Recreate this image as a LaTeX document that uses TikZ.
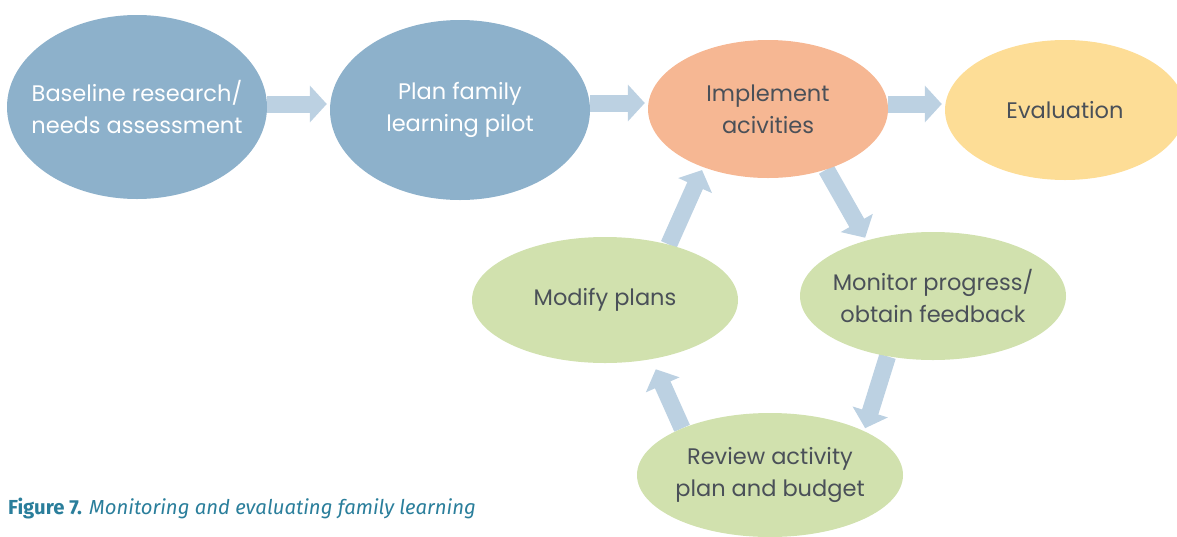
\documentclass[tikz,border=0pt]{standalone}
\usepackage{fontspec}
\setmainfont{Poppins}
\newfontfamily\capfont{Fira Sans}
\usetikzlibrary{shapes.geometric,arrows.meta,calc}
\definecolor{bluefill}{HTML}{8DB1CB}
\definecolor{salmon}{HTML}{F6B793}
\definecolor{yellowfill}{HTML}{FDDD96}
\definecolor{greenfill}{HTML}{D1E1AE}
\definecolor{arrowblue}{HTML}{BCD1E2}
\definecolor{txtgray}{HTML}{4A5058}
\definecolor{capteal}{HTML}{2A7E9B}
\pgfdeclarelayer{bg}
\pgfsetlayers{bg,main}
\tikzset{
  blob/.style={ellipse, draw=none, minimum width=#1, inner sep=0pt},
  lbl/.style={align=center, font=\fontsize{22.5}{32}\selectfont, inner sep=0pt},
  flow/.style={line width=17pt, draw=arrowblue, -{Triangle[width=36pt,length=17pt]}, shorten >=3pt}
}
\begin{document}
\begin{tikzpicture}[x=1pt,y=-1pt]
\useasboundingbox (0,0) rectangle (1177,536);
\node[blob=260pt, minimum height=184pt, fill=bluefill, label={[lbl,text=white]center:{Baseline research/\\needs assessment}}] (base) at (137,107) {};
\node[blob=260pt, minimum height=180pt, fill=bluefill, label={[lbl,text=white]center:{Plan family\\learning pilot}}] (plan) at (460,110) {};
\node[blob=240pt, minimum height=138pt, fill=salmon, label={[lbl,text=txtgray]center:{Implement\\acivities}}] (impl) at (768,109) {};
\node[blob=240pt, minimum height=140pt, fill=yellowfill, label={[lbl,text=txtgray]center:{Evaluation}}] (eval) at (1065,110) {};
\node[blob=266pt, minimum height=126pt, fill=greenfill, label={[lbl,text=txtgray]center:{Modify plans}}] (mod) at (605,300) {};
\node[blob=266pt, minimum height=128pt, fill=greenfill, label={[lbl,text=txtgray]center:{Monitor progress/\\obtain feedback}}] (mon) at (933,296) {};
\node[blob=266pt, minimum height=124pt, fill=greenfill, label={[lbl,text=txtgray]center:{Review activity\\plan and budget}}] (rev) at (770,475) {};
\begin{pgfonlayer}{bg}
\draw[flow] ([yshift=3pt]base.east) -- ([yshift=3pt]base.east -| plan.west);
\draw[flow] ([yshift=7pt]plan.east) -- ([yshift=7pt]plan.east -| impl.west);
\draw[flow] ([yshift=5pt]impl.east) -- ([yshift=5pt]impl.east -| eval.west);
\draw[flow] (impl.-46) -- (mon.140);
\draw[flow] (mon.-127) -- (rev.25);
\draw[flow, shorten >=11pt] (rev.152) -- (mod.-52);
\draw[flow] (mod.41) -- (impl.-138);
\end{pgfonlayer}
\node[anchor=base west, inner sep=0pt, text=capteal, font=\capfont\fontsize{20.3}{24}\selectfont] (cap) at (8,514) {\textbf{Figure 7.} \textit{Monitoring and evaluating family learning}};
\end{tikzpicture}
\end{document}
